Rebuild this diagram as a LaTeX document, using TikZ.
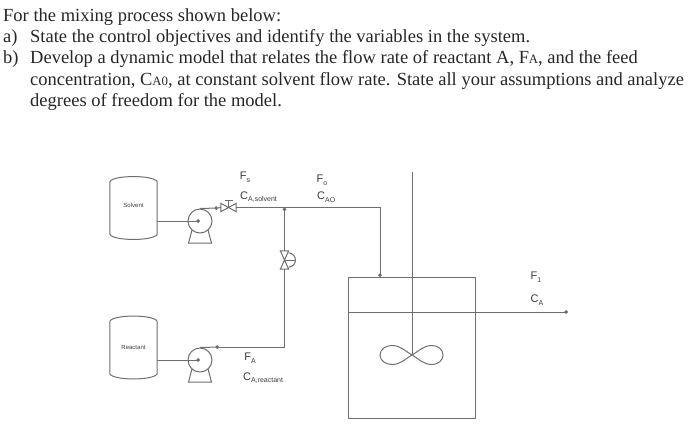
\documentclass[tikz,border=0pt]{standalone}
\usepackage{fontspec}
\setmainfont{Liberation Serif}
\setsansfont{Liberation Sans}
\usetikzlibrary{
  arrows.meta,
  positioning,
  calc
}
\definecolor{PipeGray}{HTML}{6E6E6E}
\definecolor{LabelGray}{HTML}{3C3C3C}
\newcommand{\lowsub}[1]{\raisebox{-2.5pt}{\fontsize{7}{7}\selectfont #1}}
\newcommand{\smallcap}[1]{{\fontsize{12.8}{13}\selectfont #1}}
\tikzset{
  question/.style={
    anchor=base west,
    inner sep=0pt,
    text=black!85,
    font=\fontsize{18.5}{21}\selectfont
  },
  tank/.style={
    minimum width=47pt,
    minimum height=70pt,
    inner sep=0pt,
    text=LabelGray,
    font=\sffamily\fontsize{6}{6}\selectfont
  },
  pump/.style={
    circle,
    draw=PipeGray,
    line width=1pt,
    minimum size=24pt,
    inner sep=0pt
  },
  valve/.style={
    minimum width=15pt,
    minimum height=8pt,
    inner sep=0pt
  },
  vvalve/.style={
    minimum width=8pt,
    minimum height=18pt,
    inner sep=0pt
  },
  vessel/.style={
    draw=PipeGray,
    line width=1pt,
    minimum width=127pt,
    minimum height=141pt,
    inner sep=0pt
  },
  streamlabel/.style={
    inner sep=0pt,
    text=LabelGray,
    font=\sffamily\fontsize{11}{11}\selectfont
  },
  pipe/.style={
    draw=PipeGray,
    line width=1pt
  },
  flow/.style={
    pipe,
    -{Circle[length=3.6pt]}
  },
  x=1pt,
  y=1pt
}
\begin{document}
\begin{tikzpicture}

  \useasboundingbox (0,-426) rectangle (700,0);

  % question text
  \node[question] (line1) at (3,-21) {For the mixing process shown below:};
  \node[question] (line2a) at (3,-42) {a)};
  \node[question] (line2) at (30,-42) {State the control objectives and identify the variables in the system.};
  \node[question] (line3a) at (3,-63) {b)};
  \node[question] (line3) at (30,-63) {Develop a dynamic model that relates the flow rate of reactant A, F\smallcap{A}, and the feed};
  \node[question] (line4) at (30,-85) {concentration, C\smallcap{A0}, at constant solvent flow rate. State all your assumptions and analyze};
  \node[question] (line5) at (30,-106) {degrees of freedom for the model.};

  % equipment
  \node[tank] (solvent) at (133.5,-208) {\raisebox{5pt}{Solvent}};
  \node[tank] (reactant) at (133.5,-347.5) {Reactant};
  \node[pump] (solventpump) at (200,-221) {};
  \node[pump] (reactantpump) at (200,-360) {};
  \node[valve] (solventvalve) at (228.5,-207.5) {};
  \node[vvalve] (reactantvalve) at (284.5,-260) {};
  \node[vessel, anchor=north west] (mixer) at (348,-277) {};

  \foreach \tankname in {solvent,reactant}{
    \draw[pipe]
    ([yshift=-9pt]\tankname.north west)
    .. controls ([xshift=3pt,yshift=-2pt]\tankname.north west) and ([xshift=-3pt,yshift=-2pt]\tankname.north east) ..
    ([yshift=-9pt]\tankname.north east)
    -- ([yshift=9pt]\tankname.south east)
    .. controls ([xshift=-3pt,yshift=2pt]\tankname.south east) and ([xshift=3pt,yshift=2pt]\tankname.south west) ..
    ([yshift=9pt]\tankname.south west)
    -- cycle;
  }

  \foreach \pumpname in {solventpump,reactantpump}{
    \draw[pipe]
    ([xshift=-8pt,yshift=-9pt]\pumpname.center)
    -- ([xshift=-11.5pt,yshift=-22pt]\pumpname.center)
    -- ([xshift=11.5pt,yshift=-22pt]\pumpname.center)
    -- ([xshift=8pt,yshift=-9pt]\pumpname.center);
  }

  \draw[pipe]
  (solventvalve.north west) -- (solventvalve.south east)
  -- (solventvalve.north east) -- (solventvalve.south west) -- cycle;
  \draw[pipe]
  (solventvalve.center) -- ([yshift=7pt]solventvalve.center)
  ([xshift=-4pt,yshift=7pt]solventvalve.center)
  -- ([xshift=4pt,yshift=7pt]solventvalve.center);

  \draw[pipe]
  (reactantvalve.north west) -- (reactantvalve.south east)
  -- (reactantvalve.south west) -- (reactantvalve.north east) -- cycle;
  \draw[pipe]
  ([yshift=-2pt]reactantvalve.north east)
  .. controls ([xshift=9pt,yshift=-3pt]reactantvalve.north east) and ([xshift=9pt,yshift=3pt]reactantvalve.south east) ..
  ([yshift=2pt]reactantvalve.south east);
  \draw[pipe] (reactantvalve.center) -- ([xshift=10pt]reactantvalve.center);

  % stirrer
  \coordinate (shafttop) at (412,-172);
  \coordinate (shaftend) at (412,-355);
  \draw[pipe] (shafttop) -- (shaftend);
  \draw[pipe]
  (shaftend)
  to[out=150,in=0] ++(-20,9.5)
  to[out=180,in=90] ++(-12,-9.5)
  to[out=-90,in=180] ++(12,-9.5)
  to[out=0,in=210] (shaftend)
  to[out=30,in=180] ++(20,9.5)
  to[out=0,in=90] ++(11,-9.5)
  to[out=-90,in=0] ++(-11,-9.5)
  to[out=180,in=-30] (shaftend);

  % piping
  \coordinate (solventout) at (218,-208);
  \coordinate (reactantout) at (219,-347);
  \coordinate (junction) at (284.5,-207.5);
  \coordinate (junctionlow) at (284.5,-347);
  \coordinate (feedcorner) at (380,-207.5);
  \coordinate (levelleft) at (348,-312);
  \coordinate (outlet) at (568,-312);

  \draw[flow]
  (solvent.east |- solventpump.center) -- (solventpump.center);
  \draw[flow]
  (reactant.east |- reactantpump.center) -- (reactantpump.center);
  \draw[flow]
  (solventpump.north) -- (solventout);
  \draw[flow]
  (reactantpump.north) -- (reactantout);
  \draw[pipe]
  (solventout) -- (solventvalve.west);
  \draw[flow]
  (solventvalve.east) -- (feedcorner) -- (feedcorner |- mixer.north);
  \draw[pipe]
  (reactantout) -- (junctionlow) -- (reactantvalve.south);
  \draw[flow]
  (reactantvalve.north) -- (junction);
  \draw[flow]
  (levelleft) -- (outlet);

  % stream labels
  \node[streamlabel] (fs) at (245,-177) {F\lowsub{s}};
  \node[streamlabel, anchor=west] (cs) at (240,-197) {C\lowsub{A,solvent}};
  \node[streamlabel] (f0) at (322,-180) {F\lowsub{o}};
  \node[streamlabel, anchor=west] (c0) at (317,-197) {C\lowsub{AO}};
  \node[streamlabel] (fa) at (250,-358) {F\lowsub{A}};
  \node[streamlabel, anchor=west] (ca) at (243,-378) {C\lowsub{A,reactant}};
  \node[streamlabel] (f1) at (536,-277) {F\lowsub{1}};
  \node[streamlabel] (c1) at (537,-300) {C\lowsub{A}};

\end{tikzpicture}
\end{document}
